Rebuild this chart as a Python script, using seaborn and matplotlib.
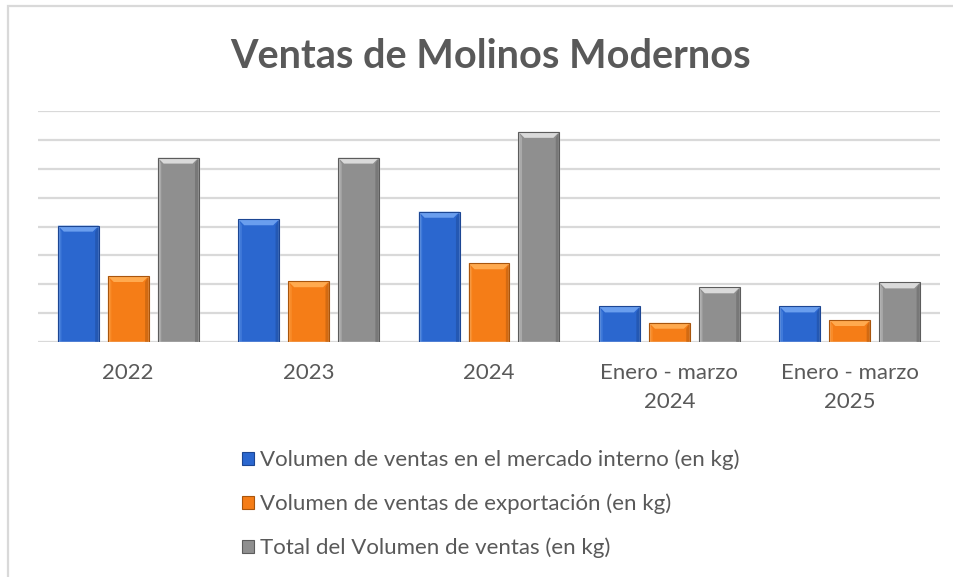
import matplotlib
matplotlib.use("Agg")
import matplotlib.pyplot as plt
from matplotlib.patches import Rectangle, Polygon, Patch
import seaborn as sns
import pandas as pd

categories = ["2022", "2023", "2024", "Enero - marzo\n2024", "Enero - marzo\n2025"]
series_names = [
    "Volumen de ventas en el mercado interno (en kg)",
    "Volumen de ventas de exportación (en kg)",
    "Total del Volumen de ventas (en kg)",
]
interno = [4.03, 4.25, 4.51, 1.24, 1.24]
exportacion = [2.29, 2.11, 2.73, 0.67, 0.77]
total = [6.38, 6.38, 7.27, 1.90, 2.07]

colors = ["#2B67CF", "#F57D17", "#8F8F8F"]
light = ["#6A9EEE", "#FFAA4F", "#DADADA"]
dark = ["#1C4693", "#A9550C", "#5C5C5C"]

rows = []
for s, vals in zip(series_names, [interno, exportacion, total]):
    for c, v in zip(categories, vals):
        rows.append({"cat": c, "serie": s, "valor": v})
df = pd.DataFrame(rows)

sns.set_style("white")
plt.rcParams["font.family"] = ["Lato", "DejaVu Sans"]

W, H = 954, 577
fig = plt.figure(figsize=(W / 100, H / 100), dpi=100)
ax = fig.add_axes([38 / W, (H - 342.3) / H, (940 - 38) / W, (342.3 - 110.7) / H])

sns.barplot(data=df, x="cat", y="valor", hue="serie", order=categories,
            hue_order=series_names, palette=colors, width=0.83, gap=0.18,
            saturation=1, ax=ax, legend=False, zorder=3)

ax.set_ylim(0, 8)
ax.set_xlim(-0.5, len(categories) - 0.5)
ax.set_yticks(range(0, 9))
ax.yaxis.grid(True, color="#D9D9D9", linewidth=1.6, zorder=0)
ax.set_axisbelow(True)
ax.set_yticklabels([])
ax.tick_params(axis="y", length=0)
ax.tick_params(axis="x", length=0, pad=15, labelsize=16, labelcolor="#595959")
for lbl in ax.get_xticklabels():
    lbl.set_linespacing(1.55)
ax.set_xlabel("")
ax.set_ylabel("")
for sp in ax.spines.values():
    sp.set_visible(False)

# bevel decoration on each bar, derived from bar geometry
fig.canvas.draw()
inv = ax.transData.inverted()
px_to_data_y = (inv.transform((0, 6)) - inv.transform((0, 0)))[1]
px_to_data_x = (inv.transform((6, 0)) - inv.transform((0, 0)))[0]
bars = [p for p in ax.patches if isinstance(p, Rectangle)]
n = len(categories)
for i, b in enumerate(bars):
    si = i // n
    x0, y0 = b.get_x(), b.get_y()
    w, h = b.get_width(), b.get_height()
    by = min(px_to_data_y, h * 0.3)
    bx = px_to_data_x
    top = Polygon([(x0, y0 + h), (x0 + w, y0 + h), (x0 + w - bx, y0 + h - by),
                   (x0 + bx, y0 + h - by)], closed=True, facecolor=light[si],
                  edgecolor="none", zorder=4)
    left = Polygon([(x0, y0), (x0, y0 + h), (x0 + bx * 0.6, y0 + h - by),
                    (x0 + bx * 0.6, y0)], closed=True, facecolor=light[si],
                   alpha=0.35, edgecolor="none", zorder=4)
    right = Polygon([(x0 + w, y0), (x0 + w, y0 + h), (x0 + w - bx * 0.6, y0 + h - by),
                     (x0 + w - bx * 0.6, y0)], closed=True, facecolor=dark[si],
                    alpha=0.45, edgecolor="none", zorder=4)
    ax.add_patch(top)
    ax.add_patch(left)
    ax.add_patch(right)
    ax.add_patch(Rectangle((x0, y0), w, h, facecolor="none", edgecolor=dark[si],
                           linewidth=0.8, zorder=5))

# title
fig.text(491 / W, 1 - 56 / H, "Ventas de Molinos Modernos", ha="center", va="center",
         fontsize=28.5, fontweight="bold", color="#595959")

# legend
handles = [Patch(facecolor=colors[i], edgecolor=dark[i], linewidth=0.8) for i in range(3)]
fig.legend(handles, series_names, loc="upper left",
           bbox_to_anchor=(233 / W, 1 - 441 / H), frameon=False,
           fontsize=16, labelcolor="#595959", handlelength=0.55, handleheight=0.55,
           handletextpad=0.25, labelspacing=1.05, borderaxespad=0)

# outer frame
fig.patches.append(Rectangle((8.5 / W, -0.1), 1.2, 1 - 5.5 / H + 0.1,
                             transform=fig.transFigure, facecolor="none",
                             edgecolor="#D9D9D9", linewidth=1.6))

fig.savefig("out.png", dpi=100)
